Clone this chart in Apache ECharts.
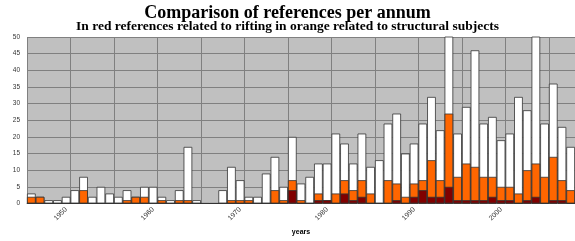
<!DOCTYPE html>
<html>
<head>
<meta charset="utf-8">
<script src="https://cdn.jsdelivr.net/npm/echarts@6/dist/echarts.min.js"></script>
<style>
  html, body { margin: 0; padding: 0; background: #fff; }
  #chart { width: 575px; height: 241px; }
</style>
</head>
<body>
<div id="chart"></div>
<script>
  const years = [];
  for (let y = 1946; y <= 2008; y++) years.push(String(y));

  // all references per year (two years go past the top of the axis)
  const totalRefs = [3, 2, 1, 1, 2, 4, 8, 2, 5, 3,
    2, 4, 2, 5, 5, 2, 1, 4, 17, 1,
    0, 0, 4, 11, 7, 2, 2, 9, 14, 5,
    20, 6, 8, 12, 12, 21, 18, 12, 21, 11,
    13, 24, 27, 15, 18, 24, 32, 22, 55, 21,
    29, 46, 24, 26, 19, 21, 32, 28, 55, 24,
    36, 23, 17];
  // structural subjects
  const structRefs = [2, 2, 0, 0, 0, 0, 4, 0, 0, 0,
    0, 1, 2, 2, 0, 1, 0, 1, 1, 0,
    0, 0, 0, 1, 1, 1, 0, 0, 4, 1,
    7, 1, 0, 3, 1, 3, 7, 4, 7, 3,
    0, 7, 6, 2, 6, 7, 13, 7, 27, 8,
    12, 11, 8, 8, 5, 5, 3, 10, 12, 8,
    14, 7, 4];
  // rifting
  const riftRefs = [0, 0, 0, 0, 0, 0, 0, 0, 0, 0,
    0, 0, 0, 0, 0, 0, 0, 0, 0, 0,
    0, 0, 0, 0, 0, 0, 0, 0, 0, 0,
    4, 0, 0, 1, 1, 0, 3, 1, 2, 0,
    0, 0, 1, 0, 2, 4, 2, 2, 5, 1,
    1, 1, 1, 2, 1, 1, 0, 1, 2, 0,
    1, 1, 0];

  const chart = echarts.init(document.getElementById('chart'));
  const barStyle = (color) => ({ color: color, borderColor: '#333', borderWidth: 0.8 });

  chart.setOption({
    animation: false,
    title: [
      {
        text: 'Comparison of references per annum',
        left: 'center', top: -1,
        textStyle: { fontFamily: 'Liberation Serif', fontWeight: 'bold', fontSize: 18, color: '#000' },
      },
      {
        text: 'In red references related to rifting in orange related to structural subjects',
        left: 'center', top: 15,
        textStyle: { fontFamily: 'Liberation Serif', fontWeight: 'bold', fontSize: 13.5, color: '#000' },
      },
    ],
    grid: {
      left: 27, top: 37, bottom: 29, width: 553,
      show: true, backgroundColor: '#c0c0c0', borderWidth: 0,
    },
    xAxis: {
      type: 'category',
      data: years,
      name: 'years',
      nameLocation: 'middle',
      nameGap: 25,
      nameTextStyle: { fontFamily: 'Liberation Sans', fontWeight: 'bold', fontSize: 7, color: '#000' },
      axisLine: { lineStyle: { color: '#808080' } },
      axisTick: { show: false },
      axisLabel: {
        interval: (idx) => idx % 10 === 4,
        rotate: 45,
        fontSize: 7,
        fontFamily: 'Liberation Sans',
        color: '#333',
        margin: 5,
      },
      splitLine: { show: true, interval: 4, lineStyle: { color: '#808080', width: 1 } },
    },
    yAxis: {
      type: 'value',
      min: 0, max: 50, interval: 5,
      axisLine: { show: false },
      axisTick: { show: false },
      axisLabel: { fontSize: 6.5, fontFamily: 'Liberation Sans', color: '#333', margin: 7 },
      splitLine: { lineStyle: { color: '#808080', width: 1 } },
    },
    series: [
      { name: 'all', type: 'bar', data: totalRefs, barGap: '-100%', barCategoryGap: '0%',
        itemStyle: barStyle('#ffffff'), clip: true },
      { name: 'structural', type: 'bar', data: structRefs, barGap: '-100%', barCategoryGap: '0%',
        itemStyle: barStyle('#ff6600'), clip: true },
      { name: 'rifting', type: 'bar', data: riftRefs, barGap: '-100%', barCategoryGap: '0%',
        itemStyle: barStyle('#800000'), clip: true },
    ],
  });
</script>
</body>
</html>
